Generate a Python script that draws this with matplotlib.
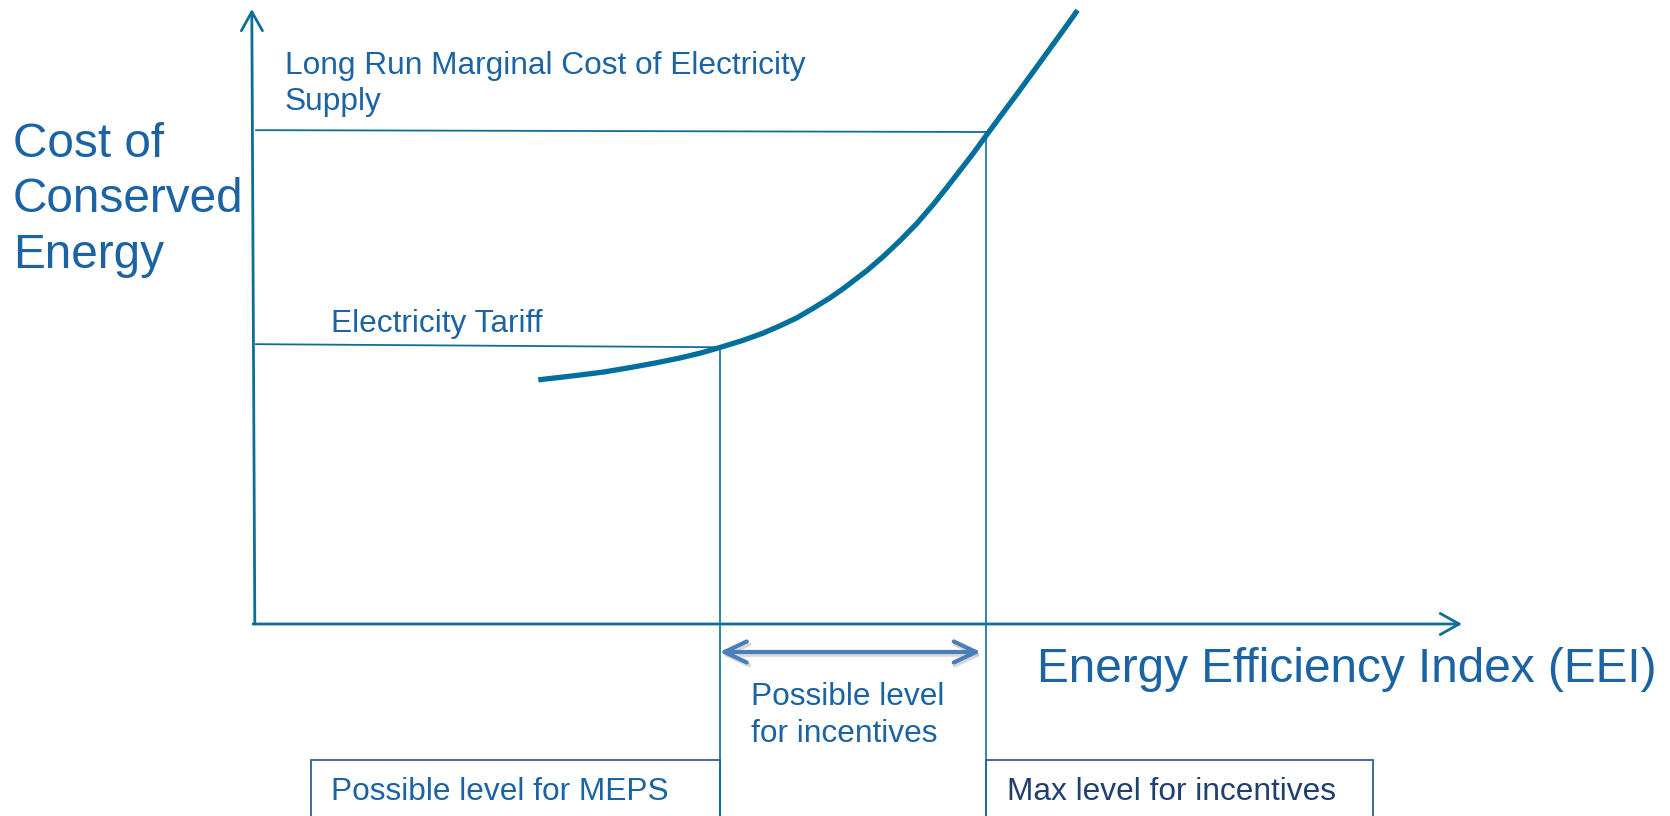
import matplotlib
matplotlib.use("Agg")
import matplotlib.pyplot as plt
from matplotlib.patches import Rectangle

plt.rcParams['font.family'] = ['Liberation Sans', 'DejaVu Sans']

# кривая стоимости сбережённой энергии (условные единицы)
eei = [23.6, 25.6, 27.1, 29.1, 31.2, 33.3, 35.3, 37.0, 38.6, 40.5,
       42.2, 43.6, 45.0, 46.3, 47.7, 48.8, 50.8, 52.1, 53.5, 54.9,
       56.3, 57.4, 58.5, 59.6, 60.6, 61.8, 63.2, 64.5, 65.9, 67.3, 68.2]
cce = [39.7, 40.15, 40.5, 41.0, 41.7, 42.45, 43.25, 44.05, 44.95, 46.1,
       47.3, 48.5, 49.8, 51.3, 53.0, 54.5, 57.5, 59.7, 62.3, 65.1,
       68.3, 71.0, 73.8, 76.6, 79.3, 82.5, 86.2, 89.7, 93.5, 97.3, 99.8]

tariff_y = [45.5, 45.0]      # уровень тарифа (слева, у кривой)
lrmc_y = [80.3, 80.0]        # долгосрочные предельные издержки
meps_x = 38.6                # пересечение с тарифом
max_x = 60.6                 # пересечение с LRMC

W, H = 1670, 816
text_col = '#1b63a3'
line_col = '#0f6e98'
curve_col = '#006f9b'
arrow_col = '#4a7ebb'
box_col = '#335f95'

fig = plt.figure(figsize=(W / 100, H / 100), dpi=100)

# оси: начало координат в (253, 624) px, правый край 1462, верх 9
x0, x1, ytop, ybot = 253, 1462, 9, 624
ax = fig.add_axes([x0 / W, 1 - ybot / H, (x1 - x0) / W, (ybot - ytop) / H])
ax.set_xlim(0, 100)
ax.set_ylim(0, 100)
ax.axis('off')


def fx(px):
    return px / W


def fy(py):
    return 1 - py / H


y_low = -35  # ниже нижнего края рисунка

# оси со стрелками
head = '->,head_length=0.68,head_width=0.38'
ax.annotate('', xy=(100, 0), xytext=(0, 0), annotation_clip=False,
            arrowprops=dict(arrowstyle=head, lw=2.0, color=line_col,
                            mutation_scale=20, shrinkA=0, shrinkB=0))
ax.annotate('', xy=(-0.1, 100), xytext=(0.15, 0), annotation_clip=False,
            arrowprops=dict(arrowstyle=head, lw=2.0, color=line_col,
                            mutation_scale=20, shrinkA=0, shrinkB=0))

# уровни тарифа и LRMC
ax.plot([0.25, meps_x], tariff_y, color=line_col, lw=1.3, clip_on=False)
ax.plot([0.25, max_x], lrmc_y, color=line_col, lw=1.3, clip_on=False)

# вертикальные линии
ax.plot([meps_x, meps_x], [tariff_y[1], y_low], color=line_col, lw=1.2, clip_on=False)
ax.plot([max_x, max_x], [lrmc_y[1], y_low], color=line_col, lw=1.2, clip_on=False)

# кривая
ax.plot(eei, cce, color=curve_col, lw=3.8, solid_capstyle='butt',
        solid_joinstyle='round', clip_on=False)

# двусторонняя стрелка (с лёгкой тенью)
arr_y = -4.55
dstyle = '<->,head_length=0.8,head_width=0.38'
ax.annotate('', xy=(max_x - 0.3, arr_y - 0.45), xytext=(meps_x + 0.2, arr_y - 0.45),
            annotation_clip=False,
            arrowprops=dict(arrowstyle=dstyle, lw=3.0, color='#c9c9c9', alpha=0.7,
                            mutation_scale=20, shrinkA=0, shrinkB=0))
ax.annotate('', xy=(max_x - 0.4, arr_y), xytext=(meps_x, arr_y), annotation_clip=False,
            arrowprops=dict(arrowstyle=dstyle, lw=3.0, color=arrow_col,
                            mutation_scale=20, shrinkA=0, shrinkB=0))

# рамки снизу
ax.add_patch(Rectangle((4.8, y_low), meps_x - 4.8, -22.1 - y_low, fill=False,
                       edgecolor=box_col, lw=1.3, clip_on=False))
ax.add_patch(Rectangle((max_x, y_low), 92.6 - max_x, -22.1 - y_low, fill=False,
                       edgecolor=box_col, lw=1.3, clip_on=False))

# подписи (для многострочных — базовая линия последней строки)
fig.text(fx(13), fy(268), 'Cost of\nConserved\nEnergy', fontsize=34.4, color=text_col,
         va='baseline', ha='left', linespacing=1.3)
fig.text(fx(1037), fy(682), 'Energy Efficiency Index (EEI)', fontsize=34.4,
         color=text_col, va='baseline', ha='left')
fig.text(fx(285), fy(110), 'Long Run Marginal Cost of Electricity\nSupply', fontsize=22.8,
         color=text_col, va='baseline', ha='left', linespacing=1.27)
fig.text(fx(331), fy(332), 'Electricity Tariff', fontsize=22.8, color=text_col,
         va='baseline', ha='left')
fig.text(fx(751), fy(742), 'Possible level\nfor incentives', fontsize=22.8,
         color=text_col, va='baseline', ha='left', linespacing=1.3)
fig.text(fx(331), fy(800), 'Possible level for MEPS', fontsize=22.8, color=text_col,
         va='baseline', ha='left')
fig.text(fx(1007), fy(800), 'Max level for incentives', fontsize=22.8, color='#1f3f6f',
         va='baseline', ha='left')

fig.savefig('out.png', dpi=100)
